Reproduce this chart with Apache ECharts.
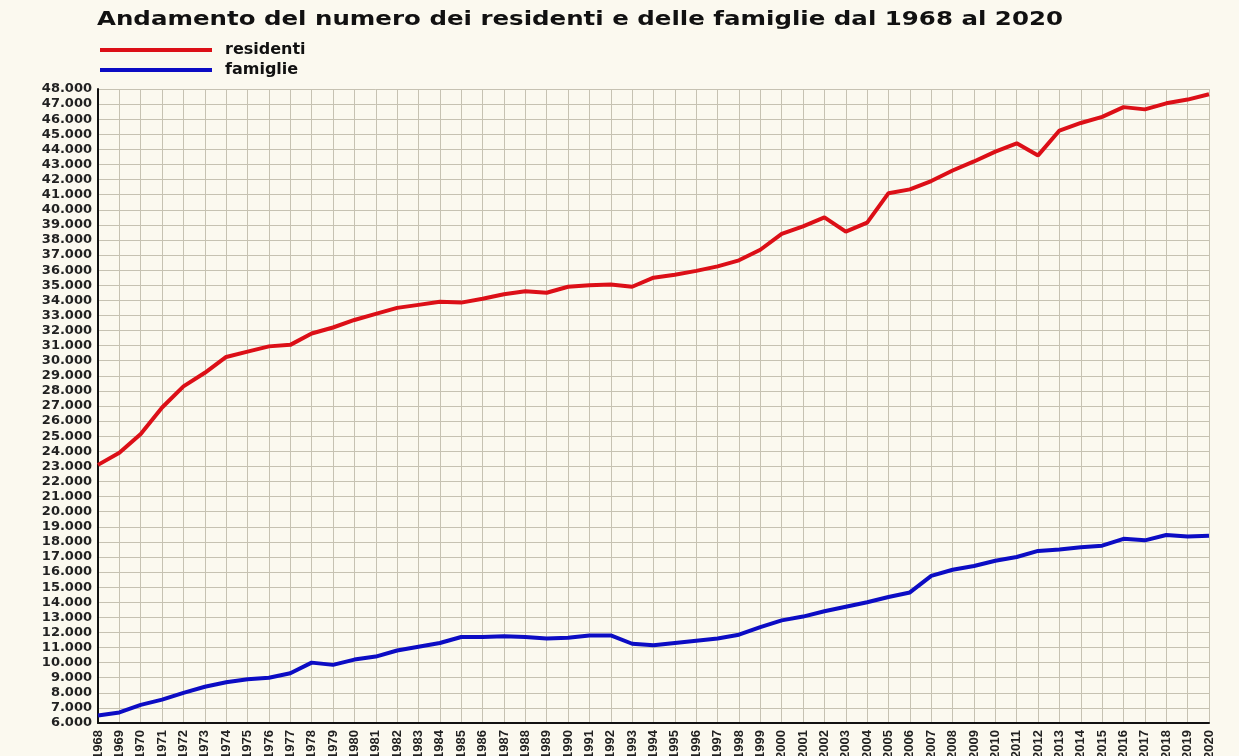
<!DOCTYPE html>
<html>
<head>
<meta charset="utf-8">
<script src="https://cdn.jsdelivr.net/npm/echarts@6/dist/echarts.min.js"></script>
<style>
  html, body { margin: 0; padding: 0; background: #fbf9ef; }
  #main { width: 1239px; height: 756px; }
</style>
</head>
<body>
<div id="main"></div>
<script>
// anni (asse x)
var anni = ['1968','1969','1970','1971','1972','1973','1974','1975','1976','1977',
    '1978','1979','1980','1981','1982','1983','1984','1985','1986','1987',
    '1988','1989','1990','1991','1992','1993','1994','1995','1996','1997',
    '1998','1999','2000','2001','2002','2003','2004','2005','2006','2007',
    '2008','2009','2010','2011','2012','2013','2014','2015','2016','2017',
    '2018','2019','2020'];
// residenti
var residenti = [23100,23900,25150,26900,28300,29200,30250,30600,30950,31050,
    31800,32200,32700,33100,33500,33700,33900,33850,34100,34400,
    34600,34500,34900,35000,35050,34900,35500,35700,35950,36250,
    36650,37350,38400,38900,39500,38550,39150,41100,41350,41900,
    42600,43200,43850,44400,43600,45250,45750,46150,46800,46650,
    47050,47300,47650];
// famiglie
var famiglie = [6500,6700,7200,7550,8000,8400,8700,8900,9000,9300,
    10000,9850,10200,10400,10800,11050,11300,11700,11700,11750,
    11700,11600,11650,11800,11800,11250,11150,11300,11450,11600,
    11850,12350,12800,13050,13400,13700,14000,14350,14650,15750,
    16150,16400,16750,17000,17400,17500,17650,17750,18200,18100,
    18450,18350,18400];
var yMin = 6000;
var yMax = 48000;
var yStep = 1000;
var titolo = 'Andamento del numero dei residenti e delle famiglie dal 1968 al 2020';

var myChart = echarts.init(document.getElementById('main'));

//formato 48.000
function formatMigliaia(v) {
    var s = String(v);
    return s.length > 3 ? s.slice(0, s.length - 3) + '.' + s.slice(s.length - 3) : s;
}

//il titolo originale e' molto spaziato: lo allargo in orizzontale
var fontTitolo = 'bold 20px "DejaVu Sans"';
var ctx = document.createElement('canvas').getContext('2d');
ctx.font = fontTitolo;
var larghezzaTitolo = ctx.measureText(titolo).width;
var scalaTitolo = 966 / larghezzaTitolo;

var option = {
    backgroundColor: '#fbf9ef',
    animation: false,
    graphic: [{
        type: 'text',
        x: 97,
        y: 10,
        scaleX: scalaTitolo,
        style: {
            text: titolo,
            font: fontTitolo,
            fill: '#111',
            textVerticalAlign: 'top'
        }
    }],
    legend: {
        orient: 'vertical',
        left: 95,
        top: 37,
        itemWidth: 112,
        itemHeight: 4,
        itemGap: 4,
        icon: 'rect',
        data: ['residenti', 'famiglie'],
        textStyle: {
            fontFamily: 'DejaVu Sans',
            fontWeight: 'bold',
            fontSize: 16,
            lineHeight: 16,
            color: '#111',
            padding: [0, 0, 0, 8]
        }
    },
    grid: {
        left: 98,
        right: 30,
        top: 89,
        bottom: 33,
        containLabel: false,
        outerBoundsMode: 'none'
    },
    xAxis: {
        type: 'category',
        boundaryGap: false,
        data: anni,
        axisLine: { lineStyle: { color: '#111', width: 2 } },
        axisTick: { show: false },
        axisLabel: {
            rotate: 90,
            margin: 7,
            interval: 0,
            fontFamily: 'Liberation Sans',
            fontWeight: 'bold',
            fontSize: 13,
            color: '#222'
        },
        splitLine: { show: true, lineStyle: { color: '#c6c2b2', width: 1 } }
    },
    yAxis: {
        type: 'value',
        min: yMin,
        max: yMax,
        interval: yStep,
        axisLine: { show: true, lineStyle: { color: '#111', width: 2 } },
        axisTick: { show: false },
        axisLabel: {
            margin: 6,
            fontFamily: 'DejaVu Sans',
            fontWeight: 'bold',
            fontSize: 13,
            color: '#222',
            formatter: formatMigliaia
        },
        splitLine: { show: true, lineStyle: { color: '#c6c2b2', width: 1 } }
    },
    series: [{
        name: 'residenti',
        type: 'line',
        data: residenti,
        showSymbol: false,
        lineStyle: { color: '#dc0f17', width: 4 },
        itemStyle: { color: '#dc0f17' }
    }, {
        name: 'famiglie',
        type: 'line',
        data: famiglie,
        showSymbol: false,
        lineStyle: { color: '#0c0cc4', width: 4 },
        itemStyle: { color: '#0c0cc4' }
    }]
};
myChart.setOption(option);
</script>
</body>
</html>
